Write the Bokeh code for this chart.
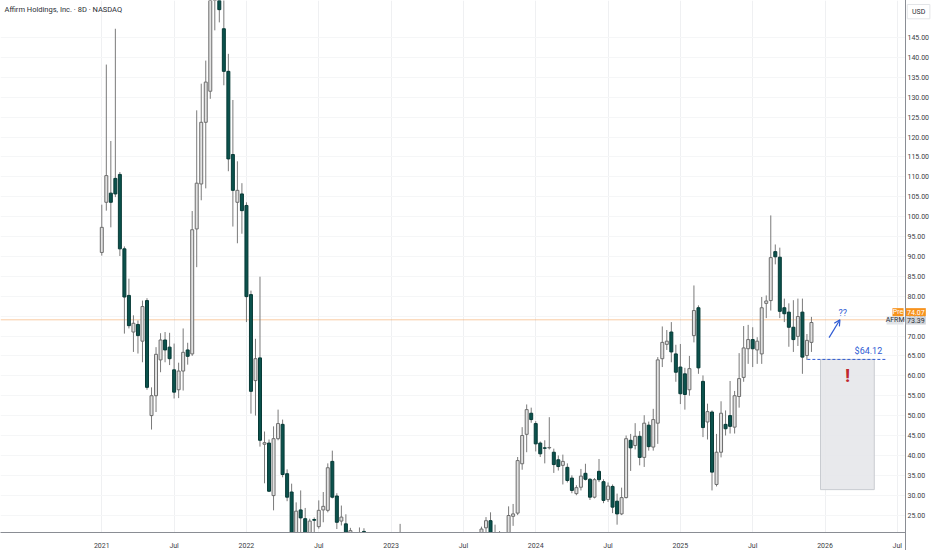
from bokeh.plotting import figure
from bokeh.models import (ColumnDataSource, Range1d, FixedTicker, Label, Span, Arrow,
                          OpenHead)
from bokeh.embed import file_html
from bokeh.resources import INLINE

# ---------------- data (8-day candles, AFRM) ----------------
opens = [91.0, 103.6, 105.9, 109.6, 110.6, 91.9, 80.2, 71.0, 72.9, 68.7,
         78.9, 50.0, 55.0, 64.0, 69.0, 67.2, 61.5, 56.5, 61.2, 66.5,
         65.5, 96.9, 108.2, 123.7, 131.5, 160.0, 165.0, 147.2, 136.5, 115.6,
         103.6, 105.7, 102.8, 80.4, 58.8, 64.5, 42.8, 43.1, 29.9, 44.2,
         47.8, 35.4, 30.8, 19.0, 26.3, 24.1, 18.0, 23.9, 22.1, 26.3,
         26.2, 38.5, 29.8, 23.5, 22.8, 18.0, 15.0, 14.0, 20.9, 14.5,
         13.0, 11.0, 10.0, 10.5, 12.0, 14.0, 17.0, 15.5, 13.5, 12.0,
         11.5, 10.5, 10.0, 9.2, 10.5, 12.5, 15.0, 16.8, 18.5, 17.0,
         19.5, 17.5, 15.8, 17.0, 19.0, 21.8, 23.6, 19.5, 17.0, 19.0,
         19.5, 24.7, 25.5, 37.9, 45.3, 50.6, 48.0, 43.1, 41.9, 41.9,
         40.8, 38.9, 37.5, 37.0, 34.3, 30.4, 32.0, 35.5, 34.0, 29.5,
         36.0, 33.4, 28.9, 32.2, 28.5, 25.3, 29.4, 43.8, 42.5, 44.8,
         39.5, 47.6, 42.1, 48.1, 64.3, 67.9, 71.0, 65.5, 62.2, 60.5,
         56.5, 70.1, 77.1, 58.6, 48.4, 50.9, 32.7, 40.8, 47.8, 50.0,
         47.1, 54.8, 59.6, 66.8, 69.1, 66.5, 65.5, 78.2, 78.9, 91.2,
         89.8, 77.1, 76.0, 72.2, 69.9, 76.0, 65.1, 68.4]
highs = [103.0, 138.2, 119.0, 147.2, 111.2, 92.5, 84.4, 75.2, 73.9, 78.9,
         79.5, 57.1, 67.2, 70.7, 71.0, 70.8, 68.1, 63.3, 71.9, 68.3,
         101.4, 126.7, 133.4, 139.2, 168.0, 172.0, 170.0, 158.0, 140.9, 129.3,
         113.9, 108.4, 103.6, 81.4, 69.3, 84.9, 46.0, 44.0, 47.3, 51.5,
         49.0, 36.5, 32.9, 28.2, 31.2, 26.8, 24.1, 24.4, 28.7, 30.8,
         38.0, 41.2, 30.5, 27.4, 25.2, 21.8, 20.5, 21.9, 21.7, 16.0,
         14.0, 12.0, 11.5, 12.5, 15.0, 18.0, 22.8, 16.5, 14.0, 13.0,
         12.0, 11.0, 10.5, 11.0, 13.0, 15.5, 17.5, 19.5, 20.0, 20.2,
         20.3, 18.5, 17.5, 19.8, 22.1, 24.5, 25.7, 22.6, 21.0, 20.5,
         27.2, 27.8, 39.6, 47.1, 52.8, 52.0, 48.6, 43.5, 43.8, 49.6,
         41.7, 40.0, 40.2, 38.0, 35.0, 32.5, 36.6, 37.9, 34.3, 34.3,
         39.1, 34.0, 33.2, 32.7, 30.4, 31.9, 45.0, 45.4, 48.1, 46.1,
         50.1, 48.5, 51.7, 64.7, 72.4, 71.5, 73.5, 67.8, 68.0, 62.0,
         65.0, 82.7, 77.7, 60.1, 53.0, 51.3, 45.4, 53.6, 51.3, 58.7,
         56.2, 65.7, 72.5, 72.8, 72.2, 69.7, 79.8, 80.2, 100.3, 93.0,
         92.2, 79.4, 78.2, 79.0, 79.4, 79.4, 70.5, 74.8]
lows = [90.2, 101.5, 97.3, 104.9, 90.1, 70.6, 71.9, 66.0, 65.6, 63.4,
        56.5, 46.5, 50.9, 60.9, 63.4, 62.7, 54.3, 54.4, 56.3, 62.8,
        65.0, 87.3, 104.1, 107.1, 129.6, 146.8, 148.8, 133.0, 111.4, 97.5,
        93.3, 95.7, 73.5, 50.5, 50.0, 42.2, 33.0, 30.8, 26.2, 43.8,
        34.5, 28.5, 14.0, 16.0, 20.5, 16.0, 15.0, 20.0, 21.6, 23.2,
        25.7, 29.2, 21.5, 22.4, 16.0, 14.0, 13.0, 13.0, 18.0, 12.0,
        10.5, 9.5, 9.5, 10.0, 11.5, 13.5, 15.0, 13.0, 11.5, 11.0,
        10.0, 9.5, 8.8, 9.0, 10.2, 12.0, 14.5, 16.0, 16.5, 16.0,
        17.0, 15.0, 14.5, 16.5, 18.0, 20.5, 18.5, 15.5, 16.0, 17.5,
        18.5, 22.3, 25.0, 36.4, 40.8, 48.2, 41.0, 39.6, 38.0, 41.5,
        35.6, 36.2, 32.7, 33.2, 30.5, 30.0, 31.2, 33.7, 28.8, 29.2,
        33.3, 28.0, 28.3, 25.5, 22.6, 25.0, 29.2, 36.1, 41.5, 37.5,
        37.1, 41.2, 41.2, 42.9, 62.2, 66.5, 63.4, 58.5, 52.9, 51.5,
        55.0, 68.4, 60.5, 44.6, 44.0, 31.2, 32.2, 39.5, 45.0, 45.5,
        45.5, 52.0, 58.5, 63.0, 62.2, 63.0, 63.0, 74.5, 76.4, 88.0,
        74.5, 73.5, 67.3, 66.0, 67.5, 60.5, 64.0, 66.0]
closes = [97.3, 110.3, 103.6, 105.7, 91.9, 79.8, 72.6, 73.2, 70.1, 77.4,
          57.1, 55.0, 65.4, 69.0, 66.5, 64.3, 55.9, 61.2, 65.9, 64.9,
          96.7, 108.4, 123.7, 133.8, 160.0, 163.0, 152.0, 136.5, 114.5, 106.6,
          106.6, 101.5, 79.9, 56.1, 64.3, 43.8, 43.2, 31.0, 44.2, 48.0,
          35.2, 29.5, 18.0, 26.0, 24.3, 19.0, 23.5, 23.7, 26.2, 27.2,
          36.9, 29.5, 23.2, 24.5, 18.0, 21.1, 14.0, 20.6, 20.2, 13.0,
          11.0, 10.0, 10.5, 12.0, 14.0, 17.0, 15.5, 13.5, 12.0, 11.5,
          10.5, 10.0, 9.2, 10.5, 12.5, 15.0, 16.8, 18.5, 17.0, 19.5,
          17.5, 15.8, 17.0, 19.0, 21.5, 23.6, 19.5, 17.0, 19.0, 20.0,
          24.9, 25.3, 38.7, 45.0, 51.5, 49.0, 42.9, 40.4, 41.8, 42.0,
          37.7, 37.2, 38.5, 33.7, 31.2, 31.9, 34.8, 34.0, 29.5, 33.9,
          33.9, 28.7, 32.3, 27.0, 25.3, 29.4, 44.2, 41.9, 44.8, 39.5,
          48.1, 42.2, 49.0, 64.0, 68.4, 68.7, 66.0, 60.9, 55.5, 55.3,
          61.8, 76.4, 62.0, 47.0, 51.0, 35.8, 40.8, 50.6, 46.7, 47.3,
          55.0, 59.3, 67.0, 69.1, 66.8, 68.7, 77.1, 78.8, 89.7, 89.9,
          76.2, 75.6, 72.2, 69.1, 74.9, 64.7, 68.9, 73.39]

tick_positions = [0, 16, 32, 48, 64, 80, 96, 112, 128, 144, 160, 176]
tick_labels = ["2021", "Jul", "2022", "Jul", "2023", "Jul", "2024", "Jul",
               "2025", "Jul", "2026", "Jul"]
price_ticks = [25, 30, 35, 40, 45, 50, 55, 60, 65, 70, 75, 80, 85, 90, 95,
               100, 105, 110, 115, 120, 125, 130, 135, 140, 145]

title_text = "Affirm Holdings, Inc. \u00b7 8D \u00b7 NASDAQ"
currency = "USD"
ticker_name = "AFRM"
pre_price = 74.07
last_price = 73.39
support_price = 64.12
box_bottom = 31.4

# ---------------- layout constants (bar index / price units) ----------------
FRAME_W, FRAME_H = 932, 532
X0, X1 = -22.41, 183.78          # visible bar-index range
Y0, Y1 = 20.63, 154.30           # visible price range
SCALE_X = 177.81                 # price-scale divider position
LABEL_X = 178.25                 # price labels start
BADGE_L, BADGE_R = 177.9, 182.3
pre_y, last_y = 75.98, 73.90     # badge centres (stacked to avoid overlap)
arrow_start = (160.9, 69.6)
arrow_end = (163.3, 74.1)
qq_pos = (163.9, 75.7)
dash_x = (156.1, 173.8)
box_x = (159.0, 170.9)
excl_pos = (165.0, 60.0)
support_label_pos = (169.6, 66.2)

FONT = "Roboto"
UP_FILL = "#e2e2e2"
UP_LINE = "#6d6d6d"
DN_FILL = "#0b524d"
DN_LINE = "#073a36"
WICK = "#7a7a7a"
BLUE = "#2f5bd3"
TXT = "#2b2e35"

idx = list(range(len(opens)))
up = [c >= o for o, c in zip(opens, closes)]
src = ColumnDataSource(dict(
    x=idx, o=opens, h=highs, l=lows, c=closes,
    top=[max(o, c) for o, c in zip(opens, closes)],
    bot=[min(o, c) for o, c in zip(opens, closes)],
    fill=[UP_FILL if u else DN_FILL for u in up],
    line=[UP_LINE if u else DN_LINE for u in up],
))

p = figure(frame_width=FRAME_W, frame_height=FRAME_H, output_backend="svg",
           toolbar_location=None,
           x_range=Range1d(X0, X1), y_range=Range1d(Y0, Y1),
           min_border_left=0, min_border_top=0, min_border_right=0,
           min_border_bottom=0, y_axis_location=None,
           background_fill_color="white", border_fill_color="white",
           outline_line_color=None)

# x axis
xa = p.xaxis[0]
xa.ticker = FixedTicker(ticks=tick_positions)
xa.major_label_overrides = {t: l for t, l in zip(tick_positions, tick_labels)}
xa.major_tick_line_color = None
xa.minor_tick_line_color = None
xa.axis_line_color = "#8a8d94"
xa.major_label_text_font = FONT
xa.major_label_text_font_size = "7px"
xa.major_label_text_color = "#3a3d44"
xa.major_label_standoff = 3

p.xgrid.ticker = FixedTicker(ticks=tick_positions)
p.xgrid.grid_line_color = "#eff0f2"
p.ygrid.ticker = FixedTicker(ticks=price_ticks)
p.ygrid.grid_line_color = "#f5f6f7"

# current (pre-market) price line
p.add_layout(Span(location=pre_price, dimension="width", line_color="#f5a25a",
                  line_width=1, line_alpha=0.55, level="underlay"))

# candles
p.segment(x0="x", y0="l", x1="x", y1="h", source=src, line_color=WICK, line_width=1)
p.vbar(x="x", top="top", bottom="bot", width=0.66, source=src,
       fill_color="fill", line_color="line", line_width=1)

# drawings: grey zone, dashed support line, labels, arrow
p.quad(left=[box_x[0]], right=[box_x[1]], top=[support_price], bottom=[box_bottom],
       fill_color="#e5e7ea", fill_alpha=0.9, line_color="#c9ccd1", line_width=1)
p.line(x=list(dash_x), y=[support_price, support_price], line_color=BLUE,
       line_width=1, line_dash="3 2")
p.text(x=[support_label_pos[0]], y=[support_label_pos[1]],
       text=["$" + f"{support_price:.2f}"], text_color=BLUE, text_font={"value": FONT},
       text_font_size="9px", text_align="center", text_baseline="middle")
p.text(x=[excl_pos[0]], y=[excl_pos[1]], text=["!"], text_color="#c0262d",
       text_font={"value": FONT}, text_font_size="19px", text_font_style="bold",
       text_align="center", text_baseline="middle")
p.add_layout(Arrow(end=OpenHead(size=6, line_color=BLUE, line_width=1.2),
                   x_start=arrow_start[0], y_start=arrow_start[1],
                   x_end=arrow_end[0], y_end=arrow_end[1],
                   line_color=BLUE, line_width=1.2))
p.text(x=[qq_pos[0]], y=[qq_pos[1]], text=["??"], text_color=BLUE,
       text_font={"value": FONT}, text_font_size="9px",
       text_align="center", text_baseline="middle")

# title
p.add_layout(Label(x=X0 + 0.9, y=Y1, y_offset=-9, text=title_text,
                   text_color=TXT, text_font=FONT,
                   text_font_size="7.5px", text_align="left", text_baseline="middle"))

# ---------------- price scale (right) ----------------
p.quad(left=[SCALE_X], right=[X1 + 1], top=[Y1 + 5], bottom=[Y0 - 5],
       fill_color="white", line_color=None, level="overlay")
p.segment(x0=[SCALE_X], x1=[SCALE_X], y0=[Y0 - 5], y1=[Y1 + 5],
          line_color="#8a8d94", line_width=1, level="overlay")
p.text(x=[LABEL_X] * len(price_ticks), y=price_ticks,
       text=[f"{t:.2f}" for t in price_ticks], text_color="#3a3d44",
       text_font={"value": FONT}, text_font_size="7px",
       text_align="left", text_baseline="middle", level="overlay")
p.rect(x=[180.7], y=[151.5], width=5.0, height=3.6, fill_color="white",
       line_color="#e3e5e8", line_width=1, level="overlay")
p.text(x=[180.7], y=[151.5], text=[currency], text_color=TXT,
       text_font={"value": FONT}, text_font_size="7px",
       text_align="center", text_baseline="middle", level="overlay")

# badges
badge_h = 2.05
p.rect(x=[(BADGE_L + BADGE_R) / 2, (BADGE_L + BADGE_R) / 2],
       y=[pre_y, last_y], width=BADGE_R - BADGE_L, height=badge_h,
       fill_color=["#f7931e", "#cfd3d9"], line_color=None, level="overlay")
p.rect(x=[176.15, 175.5], y=[pre_y, last_y], width=[2.45, 3.75], height=badge_h,
       fill_color=["#f7931e", "#e1e4e8"], line_color=None, level="overlay")
p.text(x=[(BADGE_L + BADGE_R) / 2] * 2, y=[pre_y, last_y],
       text=[f"{pre_price:.2f}", f"{last_price:.2f}"], text_color=["white", TXT],
       text_font={"value": FONT}, text_font_size="7px",
       text_align="center", text_baseline="middle", level="overlay")
p.text(x=[176.15, 175.5], y=[pre_y, last_y], text=["Pre", ticker_name],
       text_color=["white", TXT], text_font={"value": FONT}, text_font_size="7px",
       text_align="center", text_baseline="middle", level="overlay")

open("out.html", "w").write(file_html(p, INLINE))
